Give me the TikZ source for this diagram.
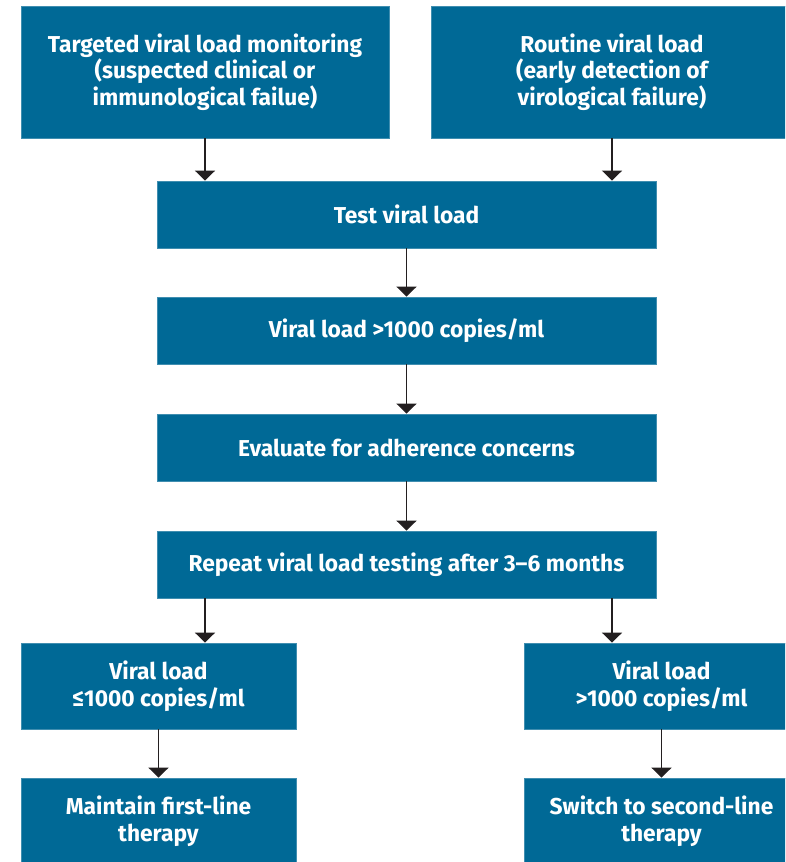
\documentclass[tikz,border=0pt]{standalone}
\usepackage{fontspec}
\newfontfamily\boxfont{Fira Sans}[FakeStretch=0.99]
\usetikzlibrary{arrows.meta,positioning}

\definecolor{boxblue}{HTML}{006996}
\definecolor{arrowgray}{HTML}{231F20}

\begin{document}
\begin{tikzpicture}[
  x=1pt, y=-1pt,
  box/.style={rectangle, fill=boxblue, draw=boxblue!75!white, line width=0.7pt,
    text=white, align=center, inner sep=0pt,
    font=\boxfont\bfseries\fontsize{23}{26.7}\selectfont},
  wide/.style={box, minimum width=499pt, minimum height=67pt},
  low/.style={box, minimum width=275pt, minimum height=86pt},
  arr/.style={-{Triangle[width=20pt,length=10pt]}, line width=1.1pt, draw=arrowgray}
]
  \clip (0,0) rectangle (785,862);

  % -- entry points --
  \node[box, minimum width=368pt, minimum height=132pt] (target) at (205,72)
    {Targeted viral load monitoring\\(suspected clinical or\\immunological failue)};
  \node[box, minimum width=362pt, minimum height=132pt] (routine) at (612,72)
    {Routine viral load\\(early detection of\\virological failure)};

  % -- main column --
  \node[wide] (test)   at (406.5,214.5) {Test viral load};
  \node[wide] (high)   at (406.5,330.5) {Viral load >1000 copies/ml};
  \node[wide] (adhere) at (406.5,447.5) {Evaluate for adherence concerns};
  \node[wide] (repeat) at (406.5,564.5) {Repeat viral load testing after 3–6 months};

  % -- outcomes --
  \node[low] (suppr)   at (158.5,686) {Viral load\\≤1000 copies/ml};
  \node[low] (fail)    at (661.5,686) {Viral load\\>1000 copies/ml};
  \node[low] (keep)    at (158.5,821) {Maintain first-line\\therapy};
  \node[low] (switch)  at (661.5,821) {Switch to second-line\\therapy};

  % arrows
  \draw[arr] (target.south) -- (target.south |- test.north);
  \draw[arr] (routine.south) -- (routine.south |- test.north);
  \draw[arr] (test) -- (high);
  \draw[arr] (high) -- (adhere);
  \draw[arr] (adhere) -- (repeat);
  \draw[arr] (repeat.south -| target.south) -- (suppr.north -| target.south);
  \draw[arr] (repeat.south -| routine.south) -- (fail.north -| routine.south);
  \draw[arr] (suppr) -- (keep);
  \draw[arr] (fail) -- (switch);
\end{tikzpicture}
\end{document}
